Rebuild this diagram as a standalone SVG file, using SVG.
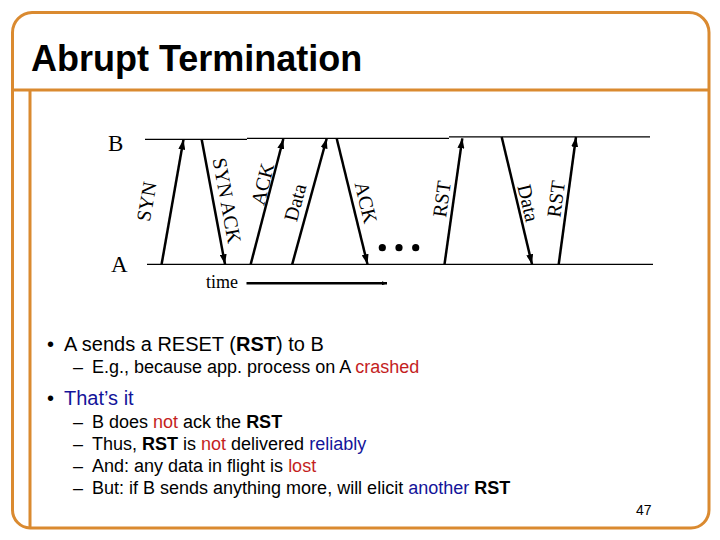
<svg xmlns="http://www.w3.org/2000/svg" width="720" height="540" viewBox="0 0 720 540">
<style>
.frame{fill:none;stroke:#DA8A30;stroke-width:3}
.tl{stroke:#000;stroke-width:1.3;fill:none}
.msg{stroke:#000;stroke-width:2.5;fill:none;marker-end:url(#ah)}
.lbl{font-family:"Liberation Serif","Times New Roman",serif;font-size:20px;fill:#000;text-anchor:middle}
.ser{font-family:"Liberation Serif","Times New Roman",serif;fill:#000}
.sans{font-family:"Liberation Sans",Arial,sans-serif;fill:#000}
.b{font-weight:bold}
.red{fill:#C41E1E}
.blue{fill:#14149A}
</style>
<defs>
<marker id="ah" markerUnits="userSpaceOnUse" viewBox="0 0 10 7" refX="10" refY="3.5" markerWidth="10" markerHeight="7" orient="auto">
<path d="M0,0 L10,3.5 L0,7 Z" fill="#000"/>
</marker>
<marker id="dot" markerUnits="userSpaceOnUse" viewBox="0 0 5 4" refX="5" refY="2" markerWidth="5" markerHeight="4" orient="auto">
<path d="M0,0 L5,2 L0,4 Z" fill="#000"/>
</marker>
</defs>
<rect width="720" height="540" fill="#fff"/>
<g id="frame">
<path class="frame" d="M32,12.5 H689 A20,20 0 0 1 709,32.5 V510 A18,18 0 0 1 691,528 H30 A18,18 0 0 1 12.5,510 V32.5 A20,20 0 0 1 32,12.5 Z"/>
<line class="frame" x1="12" y1="90" x2="709" y2="90"/>
<line class="frame" x1="30" y1="90" x2="30" y2="528"/>
</g>
<g id="title">
<text class="sans b" x="31" y="71" font-size="36">Abrupt Termination</text>
</g>
<g id="hostB">
<text class="ser" x="108" y="151" font-size="23">B</text>
<polyline class="tl" points="145,139.3 247,139.3"/>
<polyline class="tl" points="247,138.3 449,138.3"/>
<polyline class="tl" points="449,136.8 650,136.8"/>
</g>
<g id="hostA">
<text class="ser" x="111" y="272" font-size="23">A</text>
<line class="tl" x1="147" y1="264.3" x2="653" y2="264.3"/>
</g>
<g id="connectors">
<line class="msg" x1="161.6" y1="264.3" x2="183.5" y2="139.5"/>
<line class="msg" x1="201.7" y1="139.5" x2="225" y2="264.3"/>
<line class="msg" x1="250.7" y1="264.3" x2="283.3" y2="139"/>
<line class="msg" x1="292.2" y1="264.3" x2="326.7" y2="138.5"/>
<line class="msg" x1="336.7" y1="138.5" x2="367.5" y2="264.3"/>
<line class="msg" x1="444.5" y1="264.3" x2="462.3" y2="138.3"/>
<line class="msg" x1="501.7" y1="137" x2="532" y2="264.3"/>
<line class="msg" x1="558.7" y1="264.3" x2="576" y2="137"/>
</g>
<g id="labels">
<text class="lbl" transform="translate(146.5,201.5) rotate(-80.2)" dy="0.34em">SYN</text>
<text class="lbl" transform="translate(227,200.5) rotate(79.6)" dy="0.34em">SYN ACK</text>
<text class="lbl" transform="translate(262.5,184) rotate(-75.8)" dy="0.34em">ACK</text>
<text class="lbl" transform="translate(295,202.5) rotate(-75)" dy="0.34em">Data</text>
<text class="lbl" transform="translate(366,202.5) rotate(76.5)" dy="0.34em">ACK</text>
<text class="lbl" transform="translate(441.7,199) rotate(-82.1)" dy="0.34em">RST</text>
<text class="lbl" transform="translate(528.3,203) rotate(76.7)" dy="0.34em">Data</text>
<text class="lbl" transform="translate(556,199) rotate(-82.5)" dy="0.34em">RST</text>
</g>
<g id="ellipsis">
<circle cx="382.3" cy="247.7" r="3.6"/>
<circle cx="399" cy="247.7" r="3.6"/>
<circle cx="415.7" cy="247.7" r="3.6"/>
</g>
<g id="time">
<text class="ser" x="206" y="287.5" font-size="18">time</text>
<line x1="246.5" y1="283.3" x2="387" y2="283.3" stroke="#000" stroke-width="2.5" marker-end="url(#dot)"/>
</g>
<g id="bullets" class="sans">
<text x="47" y="351" font-size="20">•</text>
<text x="64" y="351" font-size="20">A sends a RESET (<tspan class="b">RST</tspan>) to B</text>
<text x="73" y="372.5" font-size="18">–</text>
<text x="92" y="372.5" font-size="18">E.g., because app. process on A <tspan class="red">crashed</tspan></text>
<text x="47" y="405" font-size="20">•</text>
<text x="64" y="405" font-size="20" class="blue">That’s it</text>
<text x="73" y="427.5" font-size="18">–</text>
<text x="92" y="427.5" font-size="18">B does <tspan class="red">not</tspan> ack the <tspan class="b">RST</tspan></text>
<text x="73" y="449.5" font-size="18">–</text>
<text x="92" y="449.5" font-size="18">Thus, <tspan class="b">RST</tspan> is <tspan class="red">not</tspan> delivered <tspan class="blue">reliably</tspan></text>
<text x="73" y="471.5" font-size="18">–</text>
<text x="92" y="471.5" font-size="18">And: any data in flight is <tspan class="red">lost</tspan></text>
<text x="73" y="493.5" font-size="18">–</text>
<text x="92" y="493.5" font-size="18">But: if B sends anything more, will elicit <tspan class="blue">another</tspan> <tspan class="b">RST</tspan></text>
</g>
<g id="page">
<text class="sans" x="636" y="515" font-size="14">47</text>
</g>
</svg>
